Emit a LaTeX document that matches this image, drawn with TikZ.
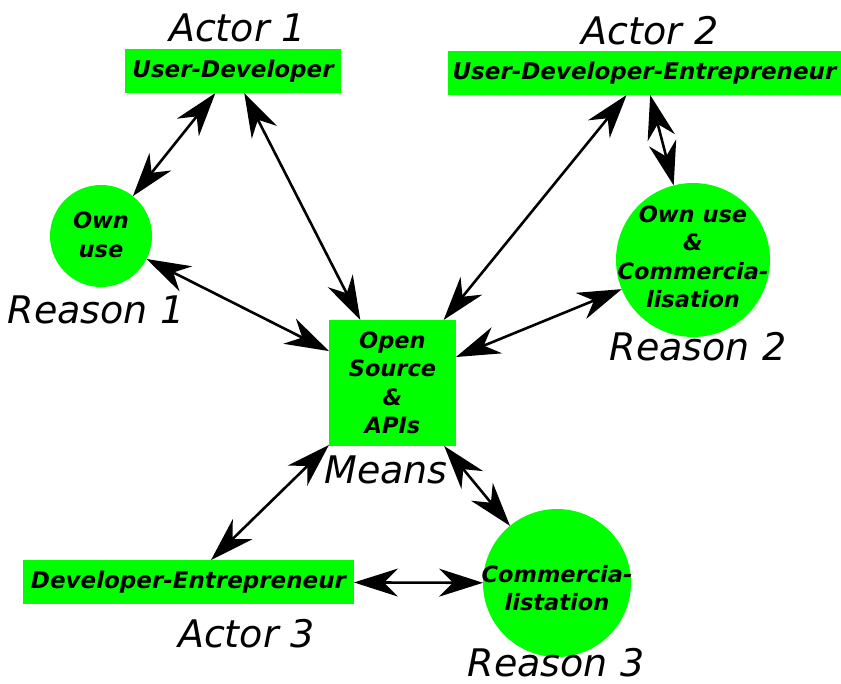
\documentclass[tikz,border=0pt]{standalone}
\usepackage{fontspec}
\setmainfont{DejaVu Sans}
\usetikzlibrary{arrows.meta}
\definecolor{brightgreen}{RGB}{0,255,0}

\begin{document}
\begin{tikzpicture}[x=1pt, y=-1pt,
      actor/.style ={rectangle, fill=brightgreen, inner sep=0pt, outer sep=0pt, minimum height=44pt,
                     font=\fontsize{23}{28.5}\selectfont\bfseries\itshape},
      means/.style ={rectangle, fill=brightgreen, inner sep=0pt, outer sep=0pt, align=center,
                     minimum width=127pt, minimum height=126pt,
                     font=\fontsize{22.5}{28.5}\selectfont\bfseries\itshape},
      reason/.style ={circle, fill=brightgreen, inner sep=0pt, outer sep=0pt},
      every label/.style ={inner sep=0pt, align=center,
                     font=\fontsize{22.5}{28.5}\selectfont\bfseries\itshape},
      caption/.style ={inner sep=0pt, font=\fontsize{38}{44}\selectfont\itshape},
      link/.style ={line width=2.6pt,
                    {Stealth[length=44pt,width=28pt,inset=14pt]}-{Stealth[length=44pt,width=28pt,inset=14pt]}}]

   \useasboundingbox (0,0) rectangle (841,684);

   % actors
   \node[actor, minimum width=216pt] (U) at (233,71)    {User-Developer};
   \node[actor, minimum width=393pt] (W) at (644.5,73)  {User-Developer-Entrepreneur};
   \node[actor, minimum width=331pt] (D) at (188.5,582) {Developer-Entrepreneur};

   % means
   \node[means] (M) at (392.5,383) {Open\\Source\\\&\\APIs};

   % reasons
   \node[reason, minimum size=102pt, label={[yshift=1pt]center:Own\\use}] (R1) at (101,236) {};
   \node[reason, minimum size=154pt, label={[yshift=3pt]center:Own use\\\&\\Commercia-\\lisation}] (R2) at (693,260) {};
   \node[reason, minimum size=148pt, label={[yshift=-5pt]center:Commercia-\\listation}] (R3) at (557,583) {};

   % captions
   \node[caption] (A1) at (237.5,27.5) {Actor 1};
   \node[caption] (A2) at (650,30.5)   {Actor 2};
   \node[caption] (A3) at (246.5,634)  {Actor 3};
   \node[caption] (C1) at (96,310)     {Reason 1};
   \node[caption] (C2) at (698,347)    {Reason 2};
   \node[caption] (C3) at (556,663)    {Reason 3};
   \node[caption] (CM) at (386,470)    {Means};

   \draw[link] (U) to (R1);
   \draw[link] (U) to (M);
   \draw[link] (R1) to (M);

   \draw[link] (W) to (M);
   \draw[link] (W) to (R2);
   \draw[link] (R2) to (M);

   \draw[link] (M) to (D);
   \draw[link] (M) to (R3);
   \draw[link] (D) to (R3);
\end{tikzpicture}
\end{document}
